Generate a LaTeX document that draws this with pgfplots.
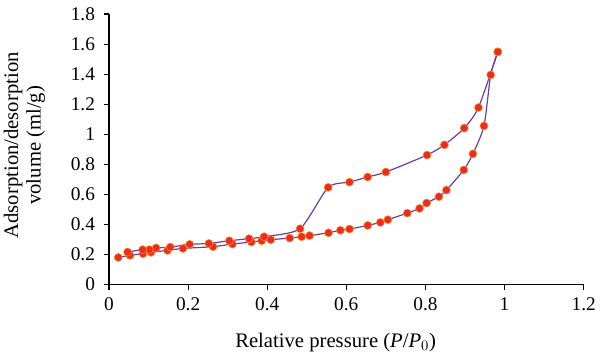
\documentclass[border=0pt]{standalone}
\usepackage{fontspec}
\setmainfont{Liberation Serif}
\usepackage{pgfplots}
\pgfplotsset{compat=1.18}
\definecolor{linepurple}{HTML}{6B3FA0}
\definecolor{markred}{HTML}{EE2A24}
\definecolor{markedge}{HTML}{F7941D}
\begin{document}
\begin{tikzpicture}
\begin{axis}[
  scale only axis,
  width=356pt, height=203pt,
  xmin=0, xmax=1.2, ymin=0, ymax=1.8,
  axis x line=bottom, axis y line=left,
  axis line style={-, line width=0.8pt},
  xtick={0,0.2,...,1.2}, ytick={0,0.2,...,1.8},
  tick align=outside,
  major tick length=4pt,
  tick style={black, line width=0.8pt},
  /pgf/number format/assume math mode=true,
  ticklabel style={font=\fontsize{14.5}{16}\selectfont},
  yticklabel style={xshift=-3pt},
  xticklabel style={yshift=-2.5pt},
  label style={font=\fontsize{15.5}{17}\selectfont},
  xlabel={Relative pressure (\textit{P}/\textit{P}$_0$)},
  xlabel style={at={(axis description cs:0.5,0)}, anchor=base, yshift=-47pt, xshift=-8pt},
  ylabel={Adsorption/desorption\\volume (ml/g)},
  ylabel style={at={(axis description cs:0,0.5)}, anchor=center, align=center, yshift=63.4pt, xshift=3pt},
  clip=false,
]
\addplot[linepurple, line width=0.9pt, smooth, tension=0.4,
  mark=*, mark size=3pt, mark options={fill=markred, draw=markedge, line width=0.4pt}]
coordinates {
(0.0235,0.181)(0.053,0.195)(0.086,0.206)(0.106,0.215)(0.148,0.228)(0.187,0.241)
(0.263,0.2525)(0.312,0.270)(0.360,0.284)(0.386,0.292)(0.409,0.299)(0.457,0.310)
(0.487,0.319)(0.507,0.326)(0.555,0.345)(0.585,0.362)(0.608,0.370)(0.654,0.394)
(0.686,0.414)(0.705,0.432)(0.754,0.476)(0.785,0.507)(0.803,0.543)(0.834,0.585)
(0.853,0.629)(0.897,0.763)(0.920,0.870)(0.948,1.056)(0.965,1.395)(0.983,1.548)
};
\addplot[linepurple, line width=0.9pt, smooth, tension=0.4,
  mark=*, mark size=3pt, mark options={fill=markred, draw=markedge, line width=0.4pt}]
coordinates {
(0.983,1.548)(0.934,1.178)(0.898,1.041)(0.848,0.930)(0.804,0.862)(0.700,0.749)
(0.654,0.716)(0.608,0.682)(0.554,0.647)(0.483,0.372)(0.392,0.319)(0.354,0.306)
(0.304,0.292)(0.2525,0.274)(0.204,0.268)(0.155,0.250)(0.119,0.244)(0.102,0.233)
(0.085,0.233)(0.047,0.217)
};
\end{axis}
\pgfresetboundingbox
\path[use as bounding box] ([xshift=-81.75pt,yshift=-58.5pt]current axis.south west) rectangle ([xshift=12.25pt,yshift=10.5pt]current axis.north east);
\end{tikzpicture}
\end{document}
